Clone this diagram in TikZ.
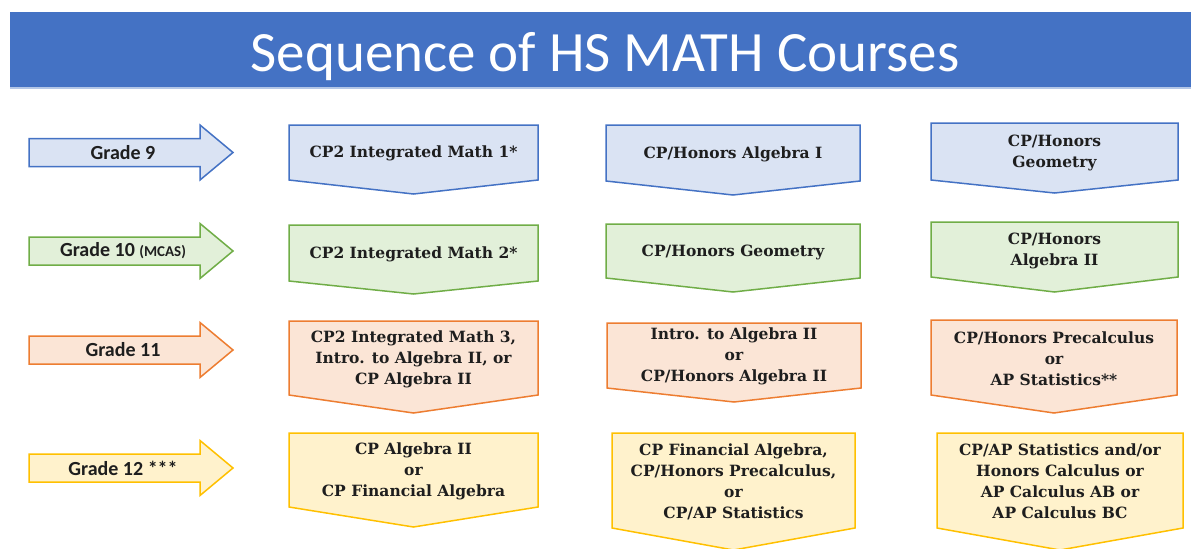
\documentclass[tikz,border=0pt]{standalone}
\usepackage{fontspec}
\setmainfont{DejaVu Serif}
\newfontfamily\calib{Carlito}
\definecolor{hdr}{HTML}{4472C4}
\definecolor{hdrline}{HTML}{B4C7E7}
\definecolor{bluefill}{HTML}{DAE3F3}
\definecolor{bluedraw}{HTML}{4472C4}
\definecolor{greenfill}{HTML}{E2F0D9}
\definecolor{greendraw}{HTML}{70AD47}
\definecolor{orangefill}{HTML}{FBE5D6}
\definecolor{orangedraw}{HTML}{ED7D31}
\definecolor{goldfill}{HTML}{FFF2CC}
\definecolor{golddraw}{HTML}{FFC000}
\definecolor{txt}{HTML}{1E1E1E}
\tikzset{
  blueshape/.style={fill=bluefill, draw=bluedraw, line width=0.75pt},
  greenshape/.style={fill=greenfill, draw=greendraw, line width=0.75pt},
  orangeshape/.style={fill=orangefill, draw=orangedraw, line width=0.75pt},
  goldshape/.style={fill=goldfill, draw=golddraw, line width=0.75pt},
  coursetext/.style={font=\bfseries\fontsize{7.75}{10.5}\selectfont, align=center, text=txt, inner sep=0pt},
  gradetext/.style={font=\calib\bfseries\fontsize{10}{12}\selectfont, text=txt, inner sep=0pt},
  titletext/.style={font=\calib\fontsize{28.5}{34}\selectfont, text=white, inner sep=0pt, anchor=base},
}
% #1 name, #2 style, #3 x1, #4 x2, #5 ytop, #6 yside, #7 ytip, #8 text
\newcommand\coursebox[8]{%
  \draw[#2] (#3,#5) -- (#4,#5) -- (#4,#6) -- ({(#3+#4)/2},#7) -- (#3,#6) -- cycle;
  \node[coursetext] (#1) at ({(#3+#4)/2},{(#5+#6)/2+1}) {#8};
}
% #1 name, #2 style, #3 ycenter, #4 text
\newcommand\gradearrow[4]{%
  \draw[#2] (29,#3-14) -- (200,#3-14) -- (200,#3-27.5) -- (233,#3) -- (200,#3+27.5) -- (200,#3+14) -- (29,#3+14) -- cycle;
  \node[gradetext] (#1) at (123,#3) {#4};
}
\begin{document}
\begin{tikzpicture}[x=0.5pt, y=-0.5pt]
\useasboundingbox (0,0) rectangle (1191,548);
\clip (0,0) rectangle (1191,548);
% title bar
\fill[hdr] (10,12) rectangle (1191,87);
\draw[hdrline, line width=0.6pt] (10,88) -- (1191,88);
\node[titletext] (title) at (605,71) {Sequence of HS MATH Courses};
% grade arrows
\gradearrow{g9}{blueshape}{152.5}{Grade 9}
\gradearrow{g10}{greenshape}{251}{Grade 10 {\fontsize{7.5}{9}\selectfont(MCAS)}}
\gradearrow{g11}{orangeshape}{350}{Grade 11}
\gradearrow{g12}{goldshape}{468}{Grade 12 ***}
% row 1
\coursebox{r1a}{blueshape}{289}{538}{125}{180}{194}{CP2 Integrated Math 1*}
\coursebox{r1b}{blueshape}{606}{860}{125}{181}{195}{CP/Honors Algebra I}
\coursebox{r1c}{blueshape}{931}{1178}{123}{180}{193}{CP/Honors\\Geometry}
% row 2
\coursebox{r2a}{greenshape}{289}{538}{225}{281}{294}{CP2 Integrated Math 2*}
\coursebox{r2b}{greenshape}{606}{860}{224}{278}{292}{CP/Honors Geometry}
\coursebox{r2c}{greenshape}{931}{1178}{222}{277}{292}{CP/Honors\\Algebra II}
% row 3
\coursebox{r3a}{orangeshape}{289}{538}{321}{395}{413}{CP2 Integrated Math 3,\\Intro. to Algebra II, or\\CP Algebra II}
\coursebox{r3b}{orangeshape}{607}{861}{323}{388}{402}{Intro. to Algebra II\\or\\CP/Honors Algebra II}
\coursebox{r3c}{orangeshape}{931}{1177}{320}{395}{413}{CP/Honors Precalculus\\or\\AP Statistics**}
% row 4
\coursebox{r4a}{goldshape}{289}{538}{433}{507}{527}{CP Algebra II\\or\\CP Financial Algebra}
\coursebox{r4b}{goldshape}{612}{855}{433}{528}{550}{CP Financial Algebra,\\CP/Honors Precalculus,\\or\\CP/AP Statistics}
\coursebox{r4c}{goldshape}{937}{1183}{433}{528}{550}{CP/AP Statistics and/or\\Honors Calculus or\\AP Calculus AB or\\AP Calculus BC}
\end{tikzpicture}
\end{document}
